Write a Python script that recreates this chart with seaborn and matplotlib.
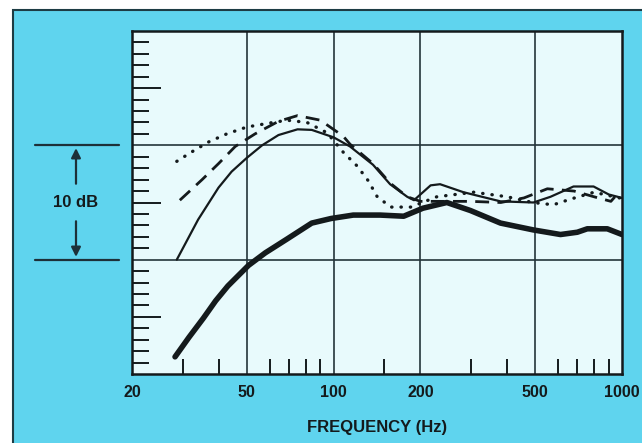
import numpy as np
import pandas as pd
import seaborn as sns
import matplotlib.pyplot as plt
from matplotlib.patches import Rectangle
from matplotlib.ticker import FixedLocator, NullFormatter
import matplotlib.transforms as mtransforms

# Valeurs (fréquence en Hz, niveau en dB relatif)
freq_fin = [28.6, 33.9, 39.9, 44.3, 50, 56.5, 64.4, 75, 84, 100, 114, 137, 157, 180, 190,
            217, 234, 282, 379, 493, 565, 679, 797, 900, 1000]
db_fin = [10.0, 13.5, 16.3, 17.7, 18.9, 20.0, 20.9, 21.4, 21.35, 20.7, 19.9, 18.3, 16.6, 15.5, 15.2,
          16.5, 16.6, 15.9, 15.1, 15.0, 15.5, 16.4, 16.4, 15.7, 15.4]

freq_tirets = [29.3, 35, 39.9, 45.6, 53.4, 64.4, 75, 89.9, 108, 114, 137, 157, 180, 200, 254, 298,
               380, 457, 551, 682, 800, 915, 945]
db_tirets = [15.2, 17.0, 18.4, 19.9, 21.0, 22.1, 22.6, 22.2, 20.8, 20.1, 18.4, 16.7, 15.5, 15.1, 15.1,
             15.1, 15.0, 15.4, 16.2, 16.0, 15.5, 15.1, 15.5]

freq_points = [28.6, 32.1, 36.9, 42.6, 50, 58.4, 68.9, 80.9, 94.9, 108, 120.6, 131.9, 141.7, 158,
               185, 228, 306, 400, 490, 578, 664, 800, 980]
db_points = [18.6, 19.4, 20.3, 21.0, 21.6, 21.9, 22.2, 22.0, 21.1, 19.4, 18.2, 16.9, 15.5, 14.6,
             14.6, 15.5, 15.9, 15.5, 15.0, 14.8, 15.3, 15.9, 15.4]

freq_epais = [28.2, 31.5, 35.4, 39, 43, 50.7, 58, 68.9, 84, 98, 117, 145, 175, 204, 247, 298,
              379, 493, 612, 700, 758, 889, 1000]
db_epais = [1.5, 3.2, 4.9, 6.4, 7.7, 9.5, 10.6, 11.8, 13.2, 13.6, 13.9, 13.9, 13.8, 14.5, 15.0, 14.3,
            13.2, 12.6, 12.2, 12.4, 12.7, 12.7, 12.2]

x_labels = ["20", "50", "100", "200", "500", "1000"]
x_major = [20, 50, 100, 200, 500, 1000]
x_minor = [30, 40, 60, 70, 80, 90, 150, 300, 400, 600, 700, 800, 900]
x_grille = [50, 100, 200, 500]
y_grille = [10, 20]

bleu_fond = "#5fd4ee"
fond_graphe = "#e8fafc"
encre = "#141a1c"

sns.set_style("white")
plt.rcParams["font.family"] = ["Liberation Sans", "DejaVu Sans"]

fig = plt.figure(figsize=(6.42, 4.43), dpi=100, facecolor="white")

# Panneau bleu avec bordure sombre
panneau = Rectangle((13 / 642, -0.02), 1.0, 1 - 10 / 443 + 0.02, transform=fig.transFigure,
                    facecolor=bleu_fond, edgecolor="#1d3c44", linewidth=1.5, zorder=-10)
fig.patches.append(panneau)

ax = fig.add_axes([132 / 642, 1 - 374 / 443, 490 / 642, 343 / 443])
ax.set_zorder(5)
ax.set_facecolor(fond_graphe)

# Grille
for f in x_grille:
    ax.axvline(f, color="#24343a", linewidth=1.2, zorder=1)
for y in y_grille:
    ax.axhline(y, color="#24343a", linewidth=1.2, zorder=1)

# Courbes
sns.lineplot(x=freq_epais, y=db_epais, ax=ax, color=encre, linewidth=4.0,
             solid_capstyle="round", solid_joinstyle="round", sort=False, zorder=3)
sns.lineplot(x=freq_fin, y=db_fin, ax=ax, color=encre, linewidth=1.6,
             solid_joinstyle="round", sort=False, zorder=3)
sns.lineplot(x=freq_tirets, y=db_tirets, ax=ax, color=encre, linewidth=2.0,
             linestyle=(0, (5, 3)), sort=False, zorder=3)
sns.lineplot(x=freq_points, y=db_points, ax=ax, color=encre, linewidth=2.4,
             linestyle=(0, (0.1, 2.7)), dash_capstyle="round", sort=False, zorder=3)

ax.set_xscale("log")
ax.set_xlim(20, 1000)
ax.set_ylim(0, 30)

ax.set_xticks(x_major)
ax.set_xticklabels(x_labels, fontsize=11.5, fontweight="bold", color=encre)
ax.xaxis.set_minor_locator(FixedLocator(x_minor))
ax.xaxis.set_minor_formatter(NullFormatter())
ax.tick_params(axis="x", which="both", bottom=True)
ax.tick_params(axis="x", which="major", length=0, pad=8)
ax.tick_params(axis="x", which="minor", direction="in", length=11, width=1.4, color=encre)

ax.set_yticks([5, 15, 25])
ax.set_yticklabels([])
ax.yaxis.set_minor_locator(FixedLocator([v for v in range(1, 30) if v % 5 != 0]))
ax.tick_params(axis="y", which="both", left=True)
ax.tick_params(axis="y", which="major", direction="in", length=21, width=1.4, color=encre)
ax.tick_params(axis="y", which="minor", direction="in", length=12, width=1.4, color=encre)

for s in ax.spines.values():
    s.set_color(encre)
    s.set_linewidth(1.8)

ax.set_xlabel("FREQUENCY (Hz)", fontsize=12, fontweight="bold", color=encre, labelpad=14)
ax.set_ylabel("")

# Repère de 10 dB à gauche
trans = mtransforms.blended_transform_factory(fig.transFigure, ax.transData)
for y in y_grille:
    ax.plot([35 / 642, 119 / 642], [y, y], transform=trans, color="#1d3038",
            linewidth=1.6, clip_on=False)
x_fleche = 76 / 642
ax.annotate("", xy=(x_fleche, 20), xytext=(x_fleche, 16.4), xycoords=trans, textcoords=trans,
            arrowprops=dict(arrowstyle="-|>", color="#1d3038", lw=1.6, mutation_scale=14))
ax.annotate("", xy=(x_fleche, 10), xytext=(x_fleche, 13.6), xycoords=trans, textcoords=trans,
            arrowprops=dict(arrowstyle="-|>", color="#1d3038", lw=1.6, mutation_scale=14))
ax.text(x_fleche, 15, "10 dB", transform=trans, ha="center", va="center",
        fontsize=12, fontweight="bold", color=encre)

fig.savefig("out.png", dpi=100, facecolor=fig.get_facecolor())
